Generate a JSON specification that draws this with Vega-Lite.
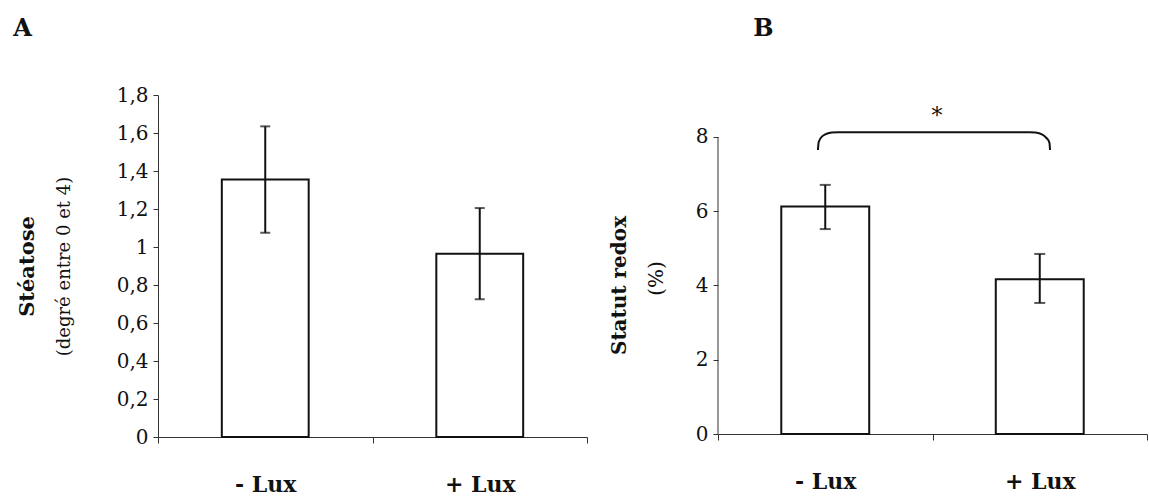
{
  "$schema": "https://vega.github.io/schema/vega-lite/v6.json",
  "padding": {"left": 13, "top": 17, "right": 0, "bottom": 0},
  "background": "white",
  "spacing": 21,
  "config": {
    "view": {"stroke": null},
    "font": "DejaVu Serif",
    "title": {"font": "DejaVu Serif", "fontSize": 24, "fontWeight": "bold", "anchor": "start", "color": "#111"},
    "axis": {"domainColor": "#333", "tickColor": "#333", "labelColor": "#111", "titleColor": "#111", "grid": false, "labelFont": "DejaVu Serif", "titleFont": "DejaVu Serif"}
  },
  "hconcat": [
    {
      "title": {"text": "A", "offset": 44, "dx": -3},
      "width": 429,
      "height": 342,
      "data": {"values": [
        {"cond": "- Lux", "mean": 1.355, "low": 1.075, "high": 1.635},
        {"cond": "+ Lux", "mean": 0.965, "low": 0.725, "high": 1.205}
      ]},
      "encoding": {
        "x": {"field": "cond", "type": "nominal", "sort": ["- Lux", "+ Lux"],
          "scale": {"paddingInner": 0, "paddingOuter": 0},
          "axis": {"title": null, "labelAngle": 0, "tickBand": "extent", "tickSize": 6, "labelPadding": 31, "labelFontSize": 22, "labelFontWeight": "bold"}}
      },
      "layer": [
        {"mark": {"type": "bar", "width": {"band": 0.405}, "fill": "white", "stroke": "#111", "strokeWidth": 2},
         "encoding": {"y": {"field": "mean", "type": "quantitative", "scale": {"domain": [0, 1.8], "nice": false},
           "axis": {"orient": "left", "values": [0, 0.2, 0.4, 0.6, 0.8, 1, 1.2, 1.4, 1.6, 1.8], "labelExpr": "replace(format(datum.value, '~g'), '.', ',')", "labelFontSize": 20, "tickSize": 5, "labelPadding": 5, "title": "Stéatose", "titleFontSize": 21, "titleFontWeight": "bold", "titlePadding": 79}}}},
        {"mark": {"type": "rule", "color": "#111", "strokeWidth": 2},
         "encoding": {"y": {"field": "low", "type": "quantitative", "axis": {"orient": "left", "labels": false, "ticks": false, "domain": false, "title": "(degré entre 0 et 4)", "titleFontSize": 18, "titleFontWeight": "normal", "titlePadding": 85}}, "y2": {"field": "high"}}},
        {"mark": {"type": "tick", "color": "#111", "thickness": 2, "size": 10},
         "encoding": {"y": {"field": "low", "type": "quantitative", "axis": null}}},
        {"mark": {"type": "tick", "color": "#111", "thickness": 2, "size": 10},
         "encoding": {"y": {"field": "high", "type": "quantitative", "axis": null}}}
      ],
      "resolve": {"axis": {"y": "independent"}}
    },
    {
      "title": {"text": "B", "offset": 54, "dx": 144},
      "width": 429,
      "height": 339,
      "layer": [
        {
          "data": {"values": [
            {"cond": "- Lux", "mean": 6.13, "low": 5.52, "high": 6.71},
            {"cond": "+ Lux", "mean": 4.17, "low": 3.53, "high": 4.85}
          ]},
          "encoding": {
            "x": {"field": "cond", "type": "nominal", "sort": ["- Lux", "+ Lux"],
              "scale": {"paddingInner": 0, "paddingOuter": 0},
              "axis": {"title": null, "labelAngle": 0, "tickBand": "extent", "tickSize": 6, "labelPadding": 31, "labelFontSize": 22, "labelFontWeight": "bold"}}
          },
          "layer": [
            {"mark": {"type": "bar", "width": {"band": 0.41}, "fill": "white", "stroke": "#111", "strokeWidth": 2},
             "encoding": {"y": {"field": "mean", "type": "quantitative", "scale": {"domain": [0, 9.1313], "nice": false},
               "axis": {"orient": "left", "values": [0, 2, 4, 6, 8], "domain": false, "labelFontSize": 20, "tickSize": 5, "labelPadding": 5, "title": "Statut redox", "titleFontSize": 20, "titleFontWeight": "bold", "titlePadding": 66, "titleY": 190}}}},
            {"mark": {"type": "rule", "color": "#111", "strokeWidth": 2},
             "encoding": {"y": {"field": "low", "type": "quantitative", "axis": {"orient": "left", "labels": false, "ticks": false, "domain": false, "title": "(%)", "titleFontSize": 20, "titleFontWeight": "normal", "titlePadding": 52, "titleY": 183}}, "y2": {"field": "high"}}},
            {"mark": {"type": "tick", "color": "#111", "thickness": 2, "size": 11},
             "encoding": {"y": {"field": "low", "type": "quantitative", "axis": null}}},
            {"mark": {"type": "tick", "color": "#111", "thickness": 2, "size": 11},
             "encoding": {"y": {"field": "high", "type": "quantitative", "axis": null}}}
          ],
          "resolve": {"axis": {"y": "independent"}}
        },
        {
          "layer": [
            {
              "data": {"values": [{"ax": 0, "y0": 0, "y1": 8}]},
              "mark": {"type": "rule", "color": "#333", "strokeWidth": 1},
              "encoding": {
                "x": {"field": "ax", "type": "quantitative", "scale": {"domain": [0, 2], "nice": false}, "axis": null},
                "y": {"field": "y0", "type": "quantitative", "axis": null},
                "y2": {"field": "y1"}
              }
            },
            {
              "data": {"values": [
                {"px": 0.466, "py": 7.65}, {"px": 0.469, "py": 7.85}, {"px": 0.48, "py": 7.98}, {"px": 0.5, "py": 8.07}, {"px": 0.53, "py": 8.12}, {"px": 0.56, "py": 8.13},
                {"px": 1.45, "py": 8.13}, {"px": 1.48, "py": 8.12}, {"px": 1.51, "py": 8.07}, {"px": 1.53, "py": 7.98}, {"px": 1.545, "py": 7.85}, {"px": 1.548, "py": 7.65}
              ]},
              "mark": {"type": "line", "color": "#111", "strokeWidth": 2, "interpolate": "monotone"},
              "encoding": {
                "x": {"field": "px", "type": "quantitative", "scale": {"domain": [0, 2], "nice": false}, "axis": null},
                "y": {"field": "py", "type": "quantitative", "axis": null}
              }
            },
            {
              "data": {"values": [{"px": 1.021, "py": 8.38, "label": "*"}]},
              "mark": {"type": "text", "fontSize": 22, "color": "#111", "baseline": "alphabetic", "align": "center"},
              "encoding": {
                "x": {"field": "px", "type": "quantitative", "scale": {"domain": [0, 2], "nice": false}, "axis": null},
                "y": {"field": "py", "type": "quantitative", "axis": null},
                "text": {"field": "label"}
              }
            }
          ]
        }
      ],
      "resolve": {"scale": {"x": "independent"}, "axis": {"x": "independent", "y": "independent"}}
    }
  ]
}
